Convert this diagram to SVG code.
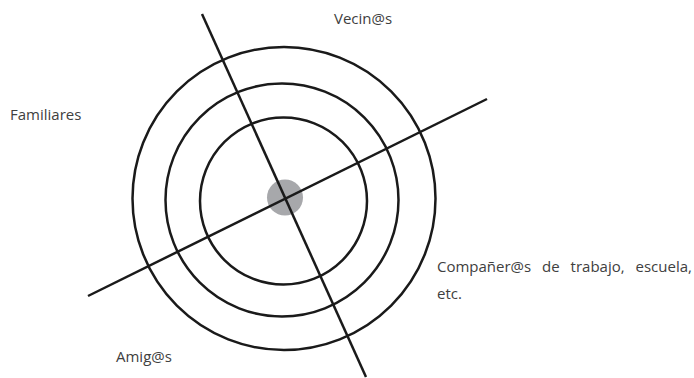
<svg xmlns="http://www.w3.org/2000/svg" width="694" height="378" viewBox="0 0 694 378">
<style>
.ring{fill:none;stroke:#1a1a1a;stroke-width:2.5}
.ax{stroke:#1a1a1a;stroke-width:2.5;fill:none}
.lbl{font-family:"Open Sans","Noto Sans",sans-serif;font-size:15px;fill:#404040}
</style>
<rect width="694" height="378" fill="#fff"/>
<g id="rings">
<g id="ring-outer"><circle class="ring" cx="284" cy="198.5" r="151.5"/></g>
<g id="ring-middle"><circle class="ring" cx="282" cy="200" r="116.5"/></g>
<g id="ring-inner"><circle class="ring" cx="283.5" cy="201" r="83.5"/></g>
<g id="center"><circle cx="285" cy="197.5" r="18" fill="#a7a8ab"/></g>
</g>
<g id="connectors">
<line class="ax" x1="202" y1="14" x2="366" y2="377"/>
<line class="ax" x1="88" y1="296" x2="487" y2="99"/>
</g>
<g id="label-vecinos"><text class="lbl" x="334" y="24">Vecin@s</text></g>
<g id="label-familiares"><text class="lbl" x="10" y="120">Familiares</text></g>
<g id="label-companeros"><text class="lbl" x="437" y="272" style="word-spacing:7px">Compañer@s de trabajo, escuela,</text><text class="lbl" x="437" y="299">etc.</text></g>
<g id="label-amigos"><text class="lbl" x="116" y="362">Amig@s</text></g>
</svg>
